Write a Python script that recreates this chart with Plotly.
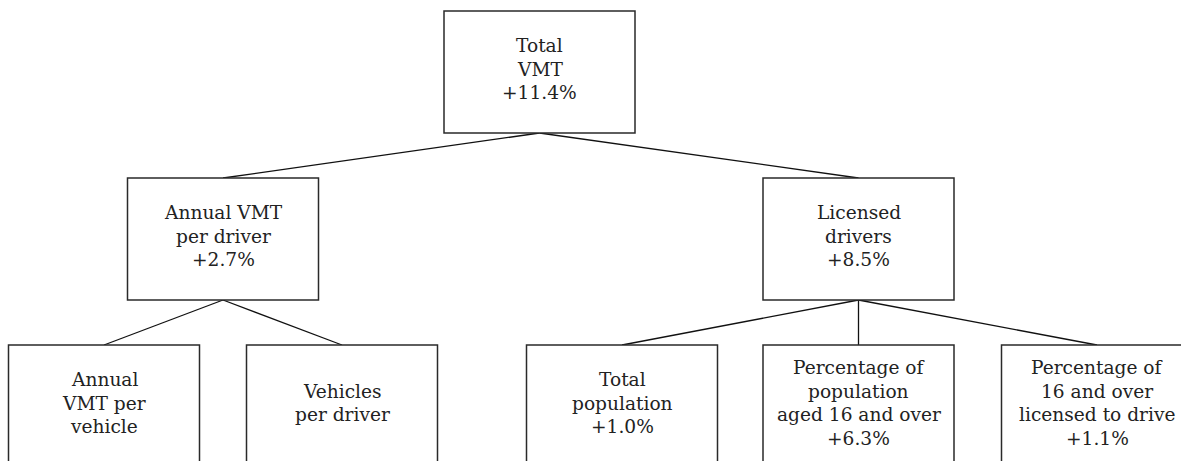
import plotly.graph_objects as go

# ---- data ----
node_labels = [
    "Total\nVMT",
    "Annual VMT\nper driver",
    "Licensed\ndrivers",
    "Annual\nVMT per\nvehicle",
    "Vehicles\nper driver",
    "Total\npopulation",
    "Percentage of\npopulation\naged 16 and over",
    "Percentage of\n16 and over\nlicensed to drive",
]
node_changes = [11.4, 2.7, 8.5, None, None, 1.0, 6.3, 1.1]
node_parents = [None, 0, 0, 1, 1, 2, 2, 2]
node_levels = [0, 1, 1, 2, 2, 2, 2, 2]

# ---- layout (pixel-like coordinates on the axes) ----
W, H = 1181, 461
level_top = {0: 11, 1: 178, 2: 345}
box_w, box_h = 191, 122
x_centers = [539.5, 223, 858.5, 104, 342, 622, 858.5, 1097]
line_step = 23.5
font_size = 18.6
text_color = "#222222"

fig = go.Figure()

# connectors
for i, p in enumerate(node_parents):
    if p is None:
        continue
    x0 = x_centers[p]
    y0 = level_top[node_levels[p]] + box_h
    x1 = x_centers[i]
    y1 = level_top[node_levels[i]]
    fig.add_trace(go.Scatter(x=[x0, x1], y=[y0, y1], mode="lines",
                             line=dict(color="#111111", width=1.3),
                             hoverinfo="skip", showlegend=False))

# boxes and text
for i, lab in enumerate(node_labels):
    cx = x_centers[i]
    top = level_top[node_levels[i]]
    fig.add_shape(type="rect", x0=cx - box_w / 2, x1=cx + box_w / 2,
                  y0=top, y1=top + box_h, xref="x", yref="y",
                  line=dict(color="#2a2a2a", width=1.5),
                  fillcolor="white", layer="above")
    lines = lab.split("\n")
    if node_changes[i] is not None:
        lines.append(f"+{node_changes[i]:.1f}%")
    n = len(lines)
    cy = top + box_h / 2 - 3
    for k, t in enumerate(lines):
        y = cy + (k - (n - 1) / 2) * line_step
        fig.add_annotation(x=cx, y=y, text=t, showarrow=False,
                           xref="x", yref="y", xanchor="center", yanchor="middle",
                           font=dict(family="DejaVu Serif", size=font_size, color=text_color))

fig.update_xaxes(range=[0, W], visible=False, fixedrange=True)
fig.update_yaxes(range=[H, 0], visible=False, fixedrange=True)
fig.update_layout(width=W, height=H, margin=dict(l=0, r=0, t=0, b=0),
                  plot_bgcolor="white", paper_bgcolor="white", showlegend=False)

fig.write_html("out.html", config={"displayModeBar": False},
               post_script="document.body.style.margin='0';document.body.style.overflow='hidden';")
